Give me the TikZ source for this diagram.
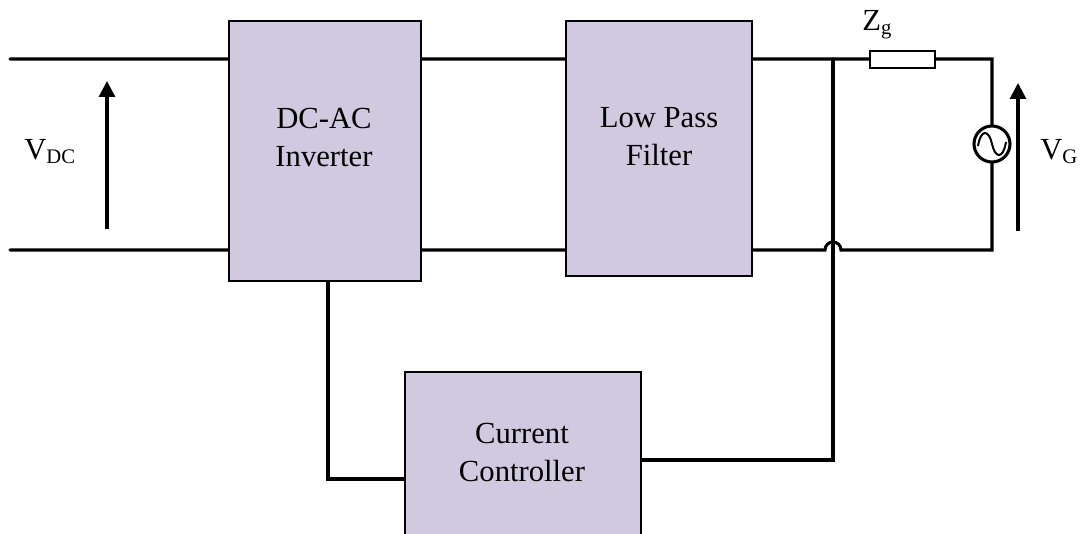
\documentclass[tikz,border=0pt]{standalone}
\usepackage{fontspec}
\setmainfont{Liberation Serif}
\usepackage{tikz}
\usetikzlibrary{positioning,arrows.meta}
\definecolor{boxfill}{RGB}{209,201,223}
\tikzset{
  block/.style={draw=black,fill=boxfill,line width=1.5pt,inner sep=0pt,outer sep=0pt,anchor=north west},
  wire/.style={line width=2.3pt,line cap=round,line join=miter},
  volt/.style={line width=2.3pt,-{Triangle[length=12pt,width=12pt]}},
  blocktext/.style={align=center,font=\fontsize{23}{28.5}\selectfont,inner sep=0pt},
  symb/.style={font=\fontsize{23}{28}\selectfont,inner sep=0pt,anchor=base west}
}
\newcommand{\subtext}[1]{\raisebox{-0.13em}{\fontsize{15.5}{18}\selectfont #1}}
\begin{document}
\begin{tikzpicture}[x=0.75pt,y=-0.75pt]
  \useasboundingbox (0,0) rectangle (1086,534);
  \clip (0,0) rectangle (1086,534);
  % wires first, blocks go on top
  \coordinate (dctop) at (10,59);
  \coordinate (dcbot) at (10,250);
  \coordinate (tap) at (833,59);
  \coordinate (gridtop) at (992,59);
  \coordinate (gridbot) at (992,250);
  \draw[wire] (dctop) -- (tap) -- (gridtop) -- (gridbot)
    -- (841,250) arc[start angle=0,end angle=-180,radius=8] -- (dcbot);
  \draw[wire] (328,281) -- (328,479) -- (405,479);
  \draw[wire] (641,460) -- (833,460) -- (tap);
  % blocks
  \node[block,minimum width=192*0.75pt,minimum height=260*0.75pt] (inverter) at (229,21) {};
  \node[block,minimum width=186*0.75pt,minimum height=255*0.75pt] (filter) at (566,21) {};
  \node[block,minimum width=236*0.75pt,minimum height=200*0.75pt] (controller) at (405,372) {};
  \node[blocktext] (invtext) at (324,138) {DC-AC\\Inverter};
  \node[blocktext] (filtext) at (659,137) {Low Pass\\Filter};
  \node[blocktext] (context) at (522,452) {Current\\Controller};
  % grid side
  \node[draw=black,fill=white,line width=1.3pt,minimum width=65*0.75pt,minimum height=17*0.75pt,inner sep=0pt] (zgrid) at (902.5,59.5) {};
  \node[draw=black,fill=white,circle,line width=2.3pt,minimum size=36*0.75pt,inner sep=0pt] (source) at (992,144) {};
  \draw[line width=1.5pt] (978,146) .. controls (981,128) and (989,130) .. (992,144)
    .. controls (995,158) and (1003,160) .. (1006,142);
  \draw[volt] (107,229) -- (107,81);
  \draw[volt] (1018,231) -- (1018,83);
  % labels
  \node[symb] (vdc) at (24,160) {V\subtext{DC}};
  \node[symb] (vg) at (1040,160) {V\subtext{G}};
  \node[symb] (zg) at (862,31) {Z\subtext{g}};
\end{tikzpicture}
\end{document}
